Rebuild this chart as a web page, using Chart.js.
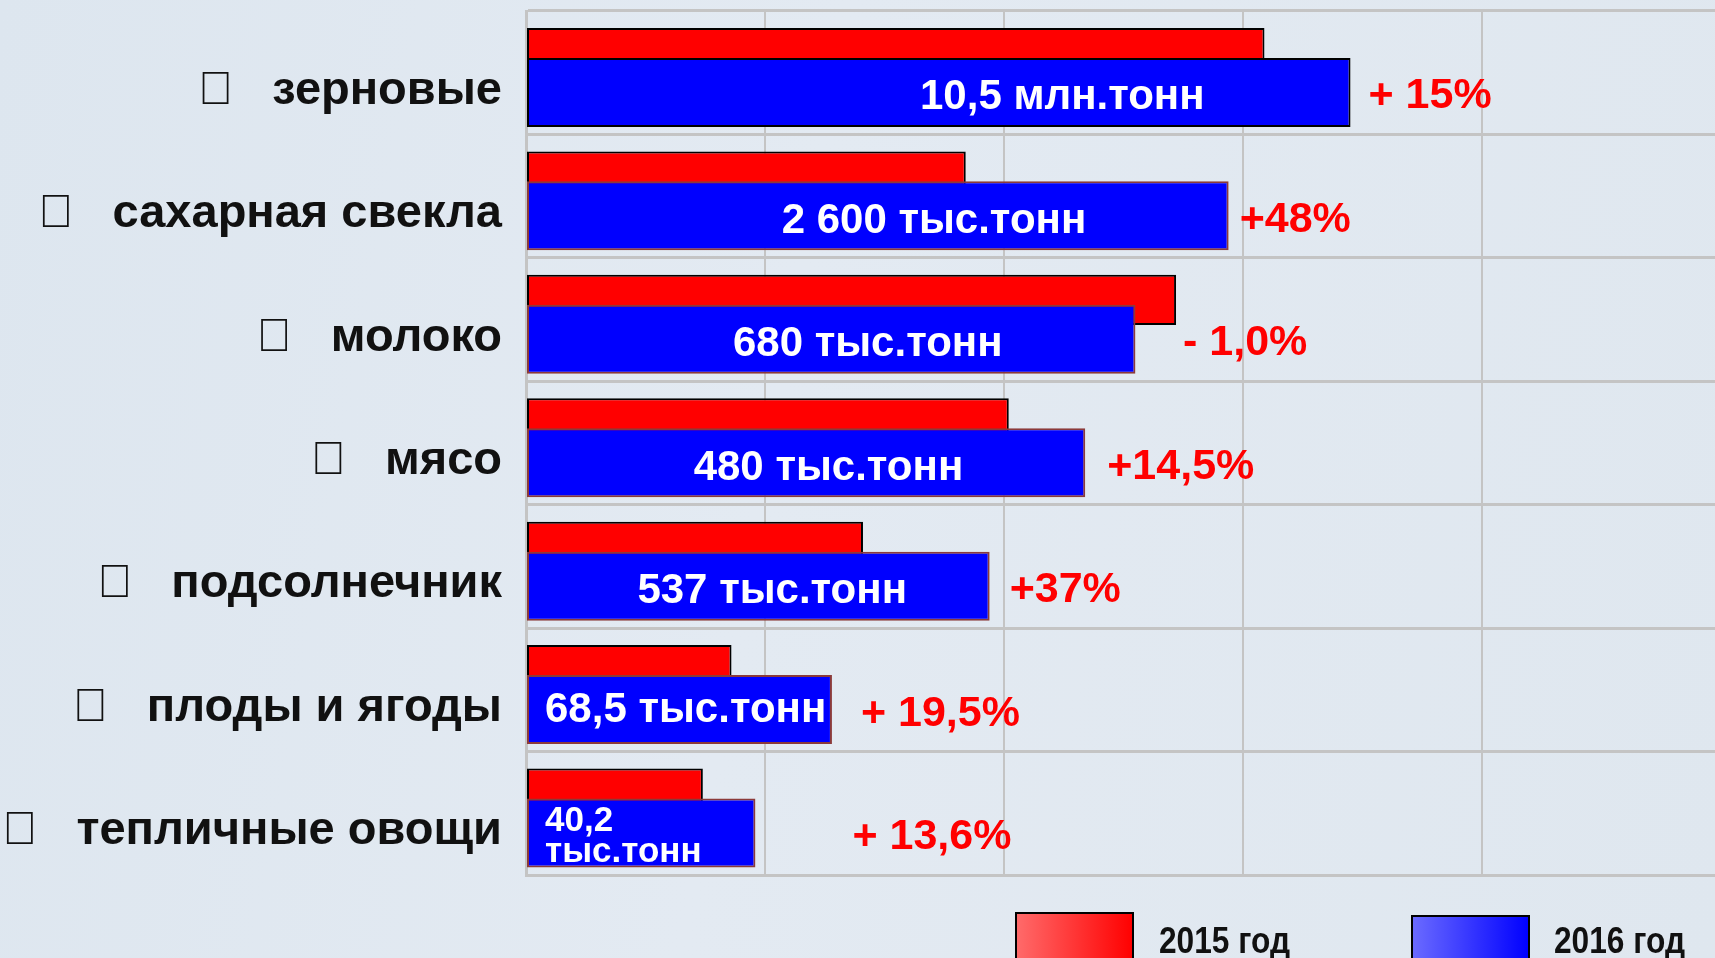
<!DOCTYPE html>
<html>
<head>
<meta charset="utf-8">
<script src="https://cdn.jsdelivr.net/npm/chart.js"></script>
<style>
  html, body { margin: 0; padding: 0; width: 1715px; height: 958px; overflow: hidden; }
  body { background: linear-gradient(100deg, #dde6ef 0%, #e3eaf2 45%, #dfe7ef 100%); }
</style>
</head>
<body>
<canvas id="chart" width="1715" height="958"></canvas>
<script>
// categories and series (bar lengths, 1 = one grid step)
const categories = ["зерновые", "сахарная свекла", "молоко", "мясо", "подсолнечник", "плоды и ягоды", "тепличные овощи"];
const bullet = "\uF0D8";
const years = ["2015 год", "2016 год"];
const values2015 = [3.09, 1.84, 2.72, 2.02, 1.41, 0.86, 0.74];
const values2016 = [3.45, 2.94, 2.55, 2.34, 1.94, 1.28, 0.96];
const volumeLabels = ["10,5 млн.тонн", "2 600 тыс.тонн", "680 тыс.тонн", "480 тыс.тонн", "537 тыс.тонн", "68,5 тыс.тонн", "40,2\nтыс.тонн"];
const changeLabels = ["+ 15%", "+48%", "- 1,0%", "+14,5%", "+37%", "+ 19,5%", "+ 13,6%"];

// label placement (layout only)
const volumeAnchor = [0.65, 0.58, 0.56, 0.54, 0.53, 0, 0]; // 0 = left aligned
const changeGap = [18, 11, 7, 22, 20, 29, 97];

const FONT = "'Liberation Sans', Arial, sans-serif";
Chart.defaults.font.family = FONT;

// 2015 bars go under the 2016 bars
const drawOrder = {
    id: "drawOrder",
    beforeDatasetsDraw(chart) {
        chart.getDatasetMeta(0).controller.draw();
    },
    beforeDatasetDraw(chart, args) {
        if (args.index === 0) return false;
    }
};

// text on and next to the bars
const barLabels = {
    id: "barLabels",
    afterDatasetsDraw(chart) {
        const ctx = chart.ctx;
        const red = chart.getDatasetMeta(0).data;
        const blue = chart.getDatasetMeta(1).data;
        ctx.save();
        blue.forEach((bar, i) => {
            const left = bar.base, right = bar.x, cy = bar.y;
            const lines = volumeLabels[i].split("\n");
            ctx.fillStyle = "#ffffff";
            ctx.textBaseline = "alphabetic";
            if (lines.length > 1) {
                ctx.font = "bold 35px " + FONT;
                ctx.textAlign = "left";
                lines.forEach((t, k) => ctx.fillText(t, left + 18, cy - 2 + k * 31));
            } else {
                let size = 42;
                ctx.font = "bold " + size + "px " + FONT;
                const avail = right - left - 22;
                const w = ctx.measureText(lines[0]).width;
                if (w > avail) {
                    size = Math.floor(size * avail / w);
                    ctx.font = "bold " + size + "px " + FONT;
                }
                if (volumeAnchor[i]) {
                    ctx.textAlign = "center";
                    ctx.fillText(lines[0], left + (right - left) * volumeAnchor[i], cy + 17);
                } else {
                    ctx.textAlign = "left";
                    ctx.fillText(lines[0], left + 18, cy + 12);
                }
            }
            ctx.fillStyle = "#ff0000";
            ctx.font = "bold 43px " + FONT;
            ctx.textAlign = "left";
            const end = Math.max(right, red[i].x);
            ctx.fillText(changeLabels[i], end + changeGap[i], cy + 16);
        });
        ctx.restore();
    }
};

// legend at the bottom, boxes with a light-to-dark fill
const yearLegend = {
    id: "yearLegend",
    afterDraw(chart) {
        const ctx = chart.ctx;
        const boxX = [1016, 1412], boxY = [913, 916], textX = [1159, 1554];
        const shades = [["#ff6b6b", "#ff0000"], ["#6b6bff", "#0000ff"]];
        ctx.save();
        chart.data.datasets.forEach((ds, i) => {
            const g = ctx.createLinearGradient(boxX[i], 0, boxX[i] + 117, 0);
            g.addColorStop(0, shades[i][0]);
            g.addColorStop(1, shades[i][1]);
            ctx.fillStyle = g;
            ctx.fillRect(boxX[i], boxY[i], 117, 50);
            ctx.strokeStyle = "#000";
            ctx.lineWidth = 2;
            ctx.strokeRect(boxX[i], boxY[i], 117, 50);
            ctx.save();
            ctx.translate(textX[i], 953);
            ctx.scale(0.88, 1);
            ctx.fillStyle = "#111";
            ctx.font = "bold 36px " + FONT;
            ctx.textAlign = "left";
            ctx.textBaseline = "alphabetic";
            ctx.fillText(ds.label, 0, 0);
            ctx.restore();
        });
        ctx.restore();
    }
};

new Chart(document.getElementById("chart"), {
    type: "bar",
    data: {
        labels: categories.map(c => bullet + "   " + c),
        datasets: [{
            label: years[0],
            data: values2015,
            backgroundColor: "#ff0000",
            borderColor: "#000000",
            borderWidth: 2,
            borderSkipped: false,
            barPercentage: 1.27,
            categoryPercentage: 0.639
        }, {
            label: years[1],
            data: values2016,
            backgroundColor: "#0000ff",
            borderColor: c => c.dataIndex === 0 ? "#000000" : "#8b3a3a",
            borderWidth: 2,
            borderSkipped: false,
            barPercentage: 1.75,
            categoryPercentage: 0.639
        }]
    },
    options: {
        indexAxis: "y",
        responsive: false,
        animation: false,
        layout: { padding: { top: 11, bottom: 83, left: 0, right: 0 } },
        plugins: {
            legend: { display: false },
            tooltip: { enabled: false }
        },
        scales: {
            x: {
                min: 0,
                max: 4.975,
                bounds: "data",
                ticks: { display: false, stepSize: 1, includeBounds: false },
                grid: { color: "#c4c4c4", lineWidth: 2, drawTicks: false },
                border: { color: "#c4c4c4", width: 3 },
                afterFit: s => { s.height = 0; s.paddingLeft = 0; s.paddingRight = 0; }
            },
            y: {
                ticks: {
                    color: "#111111",
                    font: { size: 47, weight: "bold" },
                    padding: 24,
                    labelOffset: 18
                },
                grid: { color: "#c4c4c4", lineWidth: 3, drawTicks: false, offset: true },
                border: { color: "#c4c4c4", width: 3 },
                afterFit: s => { s.width = 526; s.paddingTop = 0; s.paddingBottom = 0; }
            }
        }
    },
    plugins: [drawOrder, barLabels, yearLegend]
});
</script>
</body>
</html>
